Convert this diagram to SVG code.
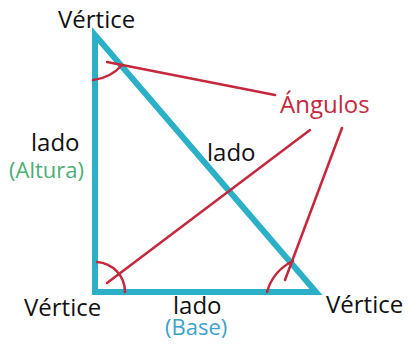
<svg xmlns="http://www.w3.org/2000/svg" width="410" height="345" viewBox="0 0 410 345">
<style>
text{font-family:"Open Sans","DejaVu Sans",sans-serif;font-size:24px;fill:#111}
.sub{font-size:22px}
.red{stroke:#c5283d;stroke-width:2.5;fill:none;stroke-linecap:round}
.tri{stroke:#2bb0c7;stroke-width:6;fill:none;stroke-linejoin:miter}
</style>
<rect width="410" height="345" fill="#fff"/>
<g id="triangle">
<polygon class="tri" points="95,35 95,292 316,292"/>
</g>
<g id="connectors">
<path class="red" d="M93,80 A45,45 0 0 0 122,65"/>
<line class="red" x1="107" y1="62" x2="275" y2="95"/>
<path class="red" d="M97,262 A30,30 0 0 1 125,292"/>
<line class="red" x1="107" y1="283" x2="310" y2="130"/>
<path class="red" d="M267,292 A50,50 0 0 1 293,261"/>
<line class="red" x1="285" y1="280" x2="342" y2="128"/>
</g>
<g id="labels">
<text x="58" y="28">Vértice</text>
<text x="24" y="316">Vértice</text>
<text x="326" y="313">Vértice</text>
<text x="280" y="113" style="fill:#c5283d">Ángulos</text>
<text x="207" y="161">lado</text>
<text x="31" y="151">lado</text>
<text class="sub" x="9" y="178" style="fill:#4dae78">(Altura)</text>
<text x="173" y="314">lado</text>
<text class="sub" x="165" y="335" style="fill:#3aa3c9">(Base)</text>
</g>
</svg>
